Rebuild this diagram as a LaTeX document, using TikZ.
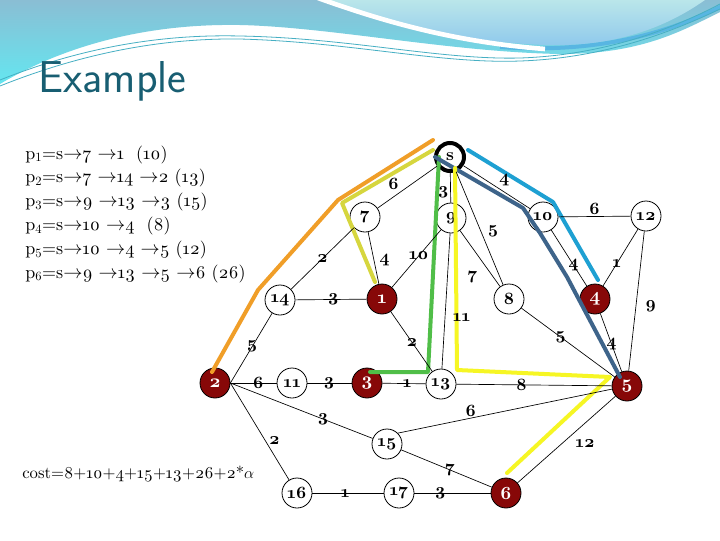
\documentclass[tikz,border=0pt]{standalone}
\usepackage{fontspec}
\newfontfamily\osfont{lmroman10}[Extension=.otf, UprightFont=*-regular, BoldFont=*-bold, Numbers=OldStyle]

\definecolor{titleteal}{RGB}{24,94,114}
\definecolor{hitred}{RGB}{135,8,8}
\definecolor{pathorange}{RGB}{240,158,40}
\definecolor{patholive}{RGB}{214,214,62}
\definecolor{pathgreen}{RGB}{80,190,72}
\definecolor{pathcyan}{RGB}{30,160,210}
\definecolor{pathsteel}{RGB}{62,100,138}
\definecolor{pathyellow}{RGB}{246,246,36}
\definecolor{wavetop}{RGB}{138,190,212}
\definecolor{wavebot}{RGB}{100,230,240}
\definecolor{blobtop}{RGB}{186,230,234}
\definecolor{blobbot}{RGB}{142,200,236}
\definecolor{waveline}{RGB}{70,175,195}
\definecolor{waveband}{RGB}{88,182,226}

\newcommand\arr{$\rightarrow$}
\newcommand\sub[1]{\textsubscript{\addfontfeature{Numbers=Lining}#1}}

\tikzset{
vtx/.style={circle, draw, line width=0.6pt, fill=white, minimum size=22.5pt, inner sep=0pt,
            font=\osfont\bfseries\fontsize{13}{13}\selectfont},
hit/.style={vtx, fill=hitred, text=white, font=\osfont\bfseries\fontsize{14}{14}\selectfont},
src/.style={vtx, line width=3pt, minimum size=21pt},
edge/.style={line width=0.5pt},
wt/.style={inner sep=1pt, font=\osfont\bfseries\fontsize{13}{13}\selectfont},
route/.style={line width=3pt, line cap=round, line join=round},
plist/.style={inner sep=0pt, anchor=base west, font=\osfont\fontsize{13.5}{14}\selectfont},
}

\begin{document}
\begin{tikzpicture}[x=0.75pt,y=0.75pt,yscale=-1,xscale=1]

\useasboundingbox (0,0) rectangle (720,540);
\fill[white] (0,0) rectangle (720,540);

% WAVES

\shade[top color=wavetop, bottom color=wavebot] (0,0) -- (720,0) -- (720,12)
      .. controls (680,32) and (640,54) .. (560,54)
      .. controls (450,52) and (330,27) .. (240,25)
      .. controls (120,23) and (40,60) .. (0,84) -- cycle;
\draw[waveband, line width=3pt] (500,47) .. controls (600,54) and (670,32) .. (722,6);
\shade[top color=blobtop, bottom color=blobbot] (325,0)
      .. controls (390,22) and (460,42) .. (545,45)
      .. controls (615,47) and (665,28) .. (705,0) -- cycle;
\draw[white, line width=3.5pt] (318,-2) .. controls (385,22) and (455,42) .. (545,49);
\draw[waveline, line width=0.6pt] (0,80) .. controls (80,48) and (160,34) .. (240,36)
      .. controls (350,38) and (440,60) .. (520,58) .. controls (610,55) and (680,25) .. (720,4);
\draw[waveline, line width=0.6pt] (0,86) .. controls (80,54) and (160,38) .. (240,39)
      .. controls (350,42) and (440,64) .. (520,61) .. controls (610,58) and (680,28) .. (720,9);

% TITLE

\node[anchor=base west, inner sep=0pt, text=titleteal, font=\sffamily\fontsize{33.5}{34}\selectfont]
      (title) at (38,92) {Example};

% PATH LIST

\foreach \txt [count=\k] in {
    {p\sub{1}=s\arr7 \arr1~ (10)},
    {p\sub{2}=s\arr7 \arr14 \arr2 (13)},
    {p\sub{3}=s\arr9 \arr13 \arr3 (15)},
    {p\sub{4}=s\arr10 \arr4~ (8)},
    {p\sub{5}=s\arr10 \arr4 \arr5 (12)},
    {p\sub{6}=s\arr9 \arr13 \arr5 \arr6 (26)}
}{
    \node[plist] (p\k) at (25,{159+23.8*(\k-1)}) {\txt};
}

\node[plist, font=\osfont\fontsize{12.5}{13}\selectfont] (cost) at (22,478)
      {cost=8+10+4+15+13+26+2*$\alpha$};

% NODES

\node[src] (s) at (450,157) {s};
\node[vtx] (n7) at (365,217) {7};
\node[vtx] (n9) at (451,218) {9};
\node[vtx] (n10) at (543,217) {10};
\node[vtx] (n12) at (646,216) {12};
\node[vtx] (n14) at (280,300) {14};
\node[hit] (n1) at (382,299) {1};
\node[vtx] (n8) at (509,299) {8};
\node[hit] (n4) at (595,299) {4};
\node[hit] (n2) at (215,383) {2};
\node[vtx] (n11) at (292,383) {11};
\node[hit] (n3) at (367,383) {3};
\node[vtx] (n13) at (441,384) {13};
\node[hit] (n5) at (627,386) {5};
\node[vtx] (n15) at (387,444) {15};
\node[vtx] (n16) at (297,493) {16};
\node[vtx] (n17) at (399,493) {17};
\node[hit] (n6) at (506,493) {6};

% ROUTES

\draw[route, pathorange] (433,140) -- (338,200) -- (258,290) -- (212,372);
\draw[route, patholive] (433,150) -- (342,203) -- (375,282);
\draw[route, pathgreen] (439,157) -- (428,372) -- (370,372);
\draw[route, pathcyan] (468,150) -- (553,202) -- (598,280);
\draw[route, pathsteel] (435,157) -- (523,208) -- (540,233) -- (567,277) -- (620,377);
\draw[route, pathyellow] (455,168) -- (457,370) -- (610,377) -- (507,473);

% EDGES

\draw[edge] (s) -- node[wt, pos=.61, anchor=south east] {6} (n7);
\draw[edge] (s) -- node[wt, pos=.65, anchor=east] {3} (n9);
\draw[edge] (s) -- node[wt, pos=.51, anchor=south west] {4} (n10);
\draw[edge] (s) -- node[wt, pos=.53, anchor=west, outer sep=4pt] {5} (n8);
\draw[edge] (n7) -- node[wt, pos=.5] {2} (n14);
\draw[edge] (n7) -- node[wt, pos=.54, anchor=west, outer sep=3pt] {4} (n1);
\draw[edge] (n9) -- node[wt, pos=.455] {10} (n1);
\draw[edge] (n9) -- node[wt, pos=.625, anchor=west, outer sep=5pt] {11} (n13);
\draw[edge] (n9) -- node[wt, pos=.61, anchor=north east, outer sep=4pt] {7} (n8);
\draw[edge] (n10) -- node[wt, anchor=south] {6} (n12);
\draw[edge] (n10) -- node[wt, pos=.63] {4} (n4);
\draw[edge] (n12) -- node[wt, pos=.61] {1} (n4);
\draw[edge] (n12) -- node[wt, pos=.54, anchor=west, outer sep=6pt] {9} (n5);
\draw[edge] (n14) -- node[wt, pos=.53] {3} (n1);
\draw[edge] (n14) -- node[wt, pos=.48] {5} (n2.east);
\draw[edge] (n1) -- node[wt, pos=.51] {2} (n13);
\draw[edge] (n8) -- node[wt, pos=.42] {5} (n5);
\draw[edge] (n4) -- node[wt, pos=.52] {4} (n5);
\draw[edge] (n2.east) -- node[wt, pos=.6] {6} (n11);
\draw[edge] (n11) -- node[wt, pos=.49] {3} (n3);
\draw[edge] (n3) -- node[wt, pos=.57] {1} (n13);
\draw[edge] (n13) -- node[wt, pos=.42] {8} (n5);
\draw[edge] (n2.east) -- node[wt, pos=.65] {3} (n15);
\draw[edge] (n2.east) -- node[wt, pos=.59, anchor=west, outer sep=2pt] {2} (n16);
\draw[edge] (n15.north east) -- node[wt, pos=.34, anchor=south] {6} (n5);
\draw[edge] (n15) -- node[wt, pos=.54] {7} (n6);
\draw[edge] (n16) -- node[wt, pos=.46] {1} (n17);
\draw[edge] (n17) -- node[wt, pos=.34] {3} (n6);
\draw[edge] (n6) -- node[wt, pos=.55, anchor=north west, outer sep=2pt] {12} (n5);

\end{tikzpicture}
\end{document}
